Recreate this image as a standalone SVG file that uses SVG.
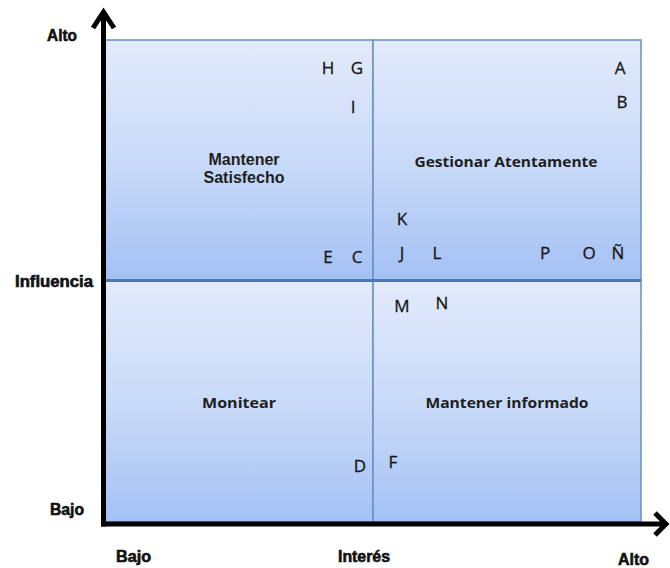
<svg xmlns="http://www.w3.org/2000/svg" width="670" height="568" viewBox="0 0 670 568">
<defs>
<linearGradient id="qg" x1="0" y1="0" x2="0" y2="1">
<stop offset="0" stop-color="#e3ebfb"/>
<stop offset="0.55" stop-color="#c6d8f8"/>
<stop offset="1" stop-color="#a4c1f4"/>
</linearGradient>
<style>
.q{fill:url(#qg);stroke:#6a8fc3;stroke-width:1.5}
.ax{font-family:"Liberation Sans",Arial,sans-serif;font-weight:bold;font-size:16px;fill:#111;stroke:#111;stroke-width:0.6}
.ql{font-family:"Liberation Sans",Arial,sans-serif;font-weight:bold;font-size:16px;fill:#1e1e1e;text-anchor:middle}
.qc{font-family:"Open Sans","Liberation Sans",sans-serif;font-weight:700;font-size:15px;fill:#1e1e1e;text-anchor:middle}
.lt{font-family:"Open Sans","Liberation Sans",sans-serif;font-size:17px;fill:#151515;stroke:#151515;stroke-width:0.3;text-anchor:middle}
.axis{stroke:#000;stroke-width:5;fill:none}
</style>
</defs>
<rect width="670" height="568" fill="#ffffff"/>
<g id="q-satisfecho">
<rect class="q" x="105" y="40" width="268" height="240"/>
<text class="ql" x="244" y="165">Mantener</text>
<text class="ql" x="244" y="183">Satisfecho</text>
</g>
<g id="q-gestionar">
<rect class="q" x="373" y="40" width="268" height="240"/>
<text class="qc" x="506" y="167" textLength="183" lengthAdjust="spacingAndGlyphs">Gestionar Atentamente</text>
</g>
<g id="q-monitear">
<rect class="q" x="105" y="281" width="268" height="241"/>
<text class="qc" x="239" y="408" textLength="74" lengthAdjust="spacingAndGlyphs">Monitear</text>
</g>
<g id="q-informado">
<rect class="q" x="373" y="281" width="268" height="241"/>
<text class="qc" x="507" y="408" textLength="163" lengthAdjust="spacingAndGlyphs">Mantener informado</text>
</g>
<line x1="105" y1="280.5" x2="641" y2="280.5" stroke="#5077ae" stroke-width="3"/>
<g id="stakeholders">
<g id="s-H"><text class="lt" x="328" y="74">H</text></g>
<g id="s-G"><text class="lt" x="357" y="74">G</text></g>
<g id="s-I"><text class="lt" x="353" y="113">I</text></g>
<g id="s-A"><text class="lt" x="620" y="74">A</text></g>
<g id="s-B"><text class="lt" x="622" y="108">B</text></g>
<g id="s-K"><text class="lt" x="402" y="225">K</text></g>
<g id="s-J"><text class="lt" x="402" y="259">J</text></g>
<g id="s-L"><text class="lt" x="437" y="259">L</text></g>
<g id="s-P"><text class="lt" x="545" y="259">P</text></g>
<g id="s-O"><text class="lt" x="589" y="259">O</text></g>
<g id="s-NN"><text class="lt" x="618" y="259">Ñ</text></g>
<g id="s-E"><text class="lt" x="328" y="263">E</text></g>
<g id="s-C"><text class="lt" x="357" y="263">C</text></g>
<g id="s-M"><text class="lt" x="402" y="312">M</text></g>
<g id="s-N"><text class="lt" x="442" y="309">N</text></g>
<g id="s-D"><text class="lt" x="360" y="472">D</text></g>
<g id="s-F"><text class="lt" x="393" y="468">F</text></g>
</g>
<g id="connectors">
<line class="axis" x1="103.5" y1="14" x2="103.5" y2="526.5"/>
<polyline class="axis" points="93,28 103.5,12 114,28"/>
<line class="axis" x1="101" y1="524" x2="664" y2="524"/>
<polyline class="axis" points="655,513 666,524 655,535"/>
</g>
<g id="axis-labels">
<text class="ax" x="47" y="41" textLength="30" lengthAdjust="spacingAndGlyphs">Alto</text>
<text class="ax" x="15" y="287" textLength="78" lengthAdjust="spacingAndGlyphs">Influencia</text>
<text class="ax" x="50" y="515" textLength="34" lengthAdjust="spacingAndGlyphs">Bajo</text>
<text class="ax" x="116" y="562" textLength="35" lengthAdjust="spacingAndGlyphs">Bajo</text>
<text class="ax" x="338" y="562" textLength="52" lengthAdjust="spacingAndGlyphs">Interés</text>
<text class="ax" x="618" y="565" textLength="31" lengthAdjust="spacingAndGlyphs">Alto</text>
</g>
</svg>
